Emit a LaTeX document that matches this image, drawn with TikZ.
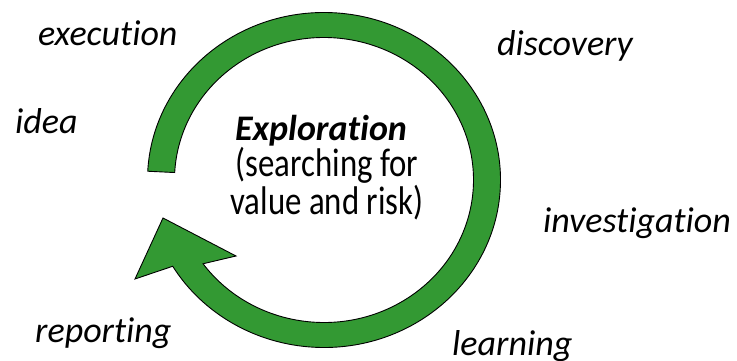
\documentclass[tikz,border=0pt]{standalone}
\usepackage{fontspec}
\setmainfont[Ligatures=NoCommon]{Carlito}
\newfontfamily\condfont[FakeStretch=0.82,Ligatures=NoCommon]{Carlito}
\usepackage{tikz}
\definecolor{loopgreen}{RGB}{51,153,51}
\tikzset{
	step label/.style={anchor=base west,inner sep=0pt,font=\fontsize{36}{40}\selectfont\itshape},
	title text/.style={anchor=base,inner sep=0pt,font=\fontsize{36}{40}\selectfont\bfseries\itshape},
	sub text/.style={anchor=base,inner sep=0pt,align=center,font=\condfont\fontsize{40}{31}\selectfont},
	loop band/.style={fill=loopgreen,draw=black,line width=0.9pt,line join=miter}
}

\begin{document}
\begin{tikzpicture}[x=1pt,y=1pt]
	\useasboundingbox (0,0) rectangle (737,360);
	\coordinate (c) at (324,180);

	% the loop arrow
	\draw [loop band] ([shift={(177:176.5 and 167.5)}]c)
		arc [start angle=177,end angle=-149,x radius=176.5,y radius=167.5]
		-- (135,81) -- (163,142) -- (236,104)
		-- ([shift={(-144:149.5 and 142.5)}]c)
		arc [start angle=-144,end angle=177,x radius=149.5,y radius=142.5]
		-- cycle;

	% centre
	\node [title text] (explore) at (321,220) {Exploration};
	\node [sub text] (search) at (327,146) {(searching for\\value and risk)};

	% steps round the loop
	\node [step label] (execution) at (38,315) {execution};
	\node [step label] (idea) at (15,227) {idea};
	\node [step label] (discovery) at (497,305) {discovery};
	\node [step label] (investigation) at (543,128) {investigation};
	\node [step label] (reporting) at (35,18) {reporting};
	\node [step label] (learning) at (452,5) {learning};
\end{tikzpicture}
\end{document}
